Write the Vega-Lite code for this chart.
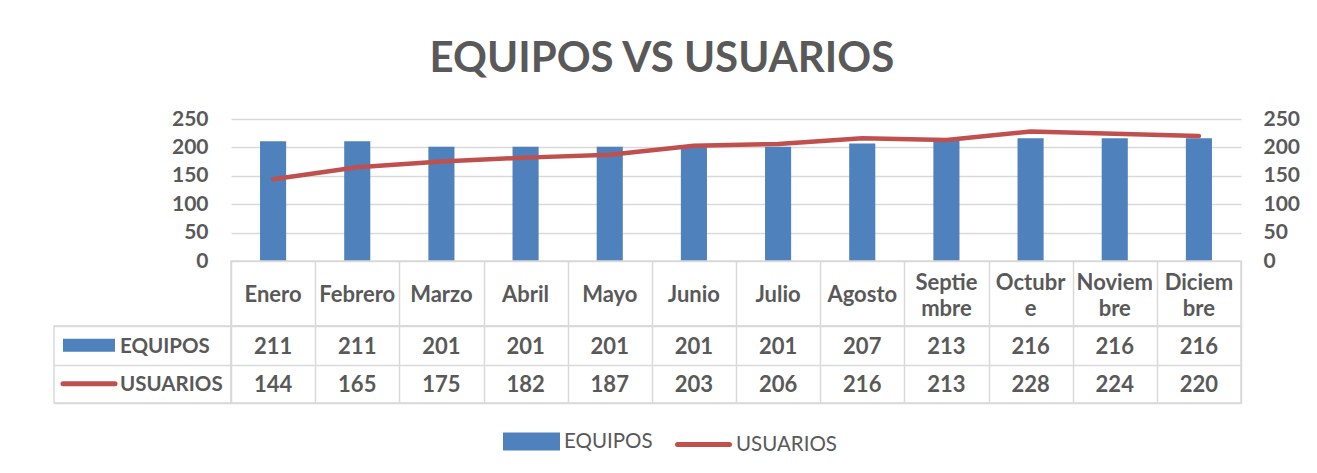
{
  "$schema": "https://vega.github.io/schema/vega-lite/v6.json",
  "background": "white",
  "padding": {"left": 52, "top": 38, "right": 10, "bottom": 10},
  "title": {"text": "EQUIPOS VS USUARIOS", "font": "Lato", "fontSize": 42, "fontWeight": "bold", "color": "#595959", "anchor": "middle", "frame": "bounds", "dx": -14, "offset": 27},
  "config": {"font": "Lato", "view": {"stroke": null}},
  "datasets": {
    "valores": [
      {"mes": "Enero", "serie": "EQUIPOS", "valor": 211},
      {"mes": "Febrero", "serie": "EQUIPOS", "valor": 211},
      {"mes": "Marzo", "serie": "EQUIPOS", "valor": 201},
      {"mes": "Abril", "serie": "EQUIPOS", "valor": 201},
      {"mes": "Mayo", "serie": "EQUIPOS", "valor": 201},
      {"mes": "Junio", "serie": "EQUIPOS", "valor": 201},
      {"mes": "Julio", "serie": "EQUIPOS", "valor": 201},
      {"mes": "Agosto", "serie": "EQUIPOS", "valor": 207},
      {"mes": "Septiembre", "serie": "EQUIPOS", "valor": 213},
      {"mes": "Octubre", "serie": "EQUIPOS", "valor": 216},
      {"mes": "Noviembre", "serie": "EQUIPOS", "valor": 216},
      {"mes": "Diciembre", "serie": "EQUIPOS", "valor": 216},
      {"mes": "Enero", "serie": "USUARIOS", "valor": 144},
      {"mes": "Febrero", "serie": "USUARIOS", "valor": 165},
      {"mes": "Marzo", "serie": "USUARIOS", "valor": 175},
      {"mes": "Abril", "serie": "USUARIOS", "valor": 182},
      {"mes": "Mayo", "serie": "USUARIOS", "valor": 187},
      {"mes": "Junio", "serie": "USUARIOS", "valor": 203},
      {"mes": "Julio", "serie": "USUARIOS", "valor": 206},
      {"mes": "Agosto", "serie": "USUARIOS", "valor": 216},
      {"mes": "Septiembre", "serie": "USUARIOS", "valor": 213},
      {"mes": "Octubre", "serie": "USUARIOS", "valor": 228},
      {"mes": "Noviembre", "serie": "USUARIOS", "valor": 224},
      {"mes": "Diciembre", "serie": "USUARIOS", "valor": 220}
    ],
    "meses": [
      {"mes": "Enero", "lineas": "Enero"},
      {"mes": "Febrero", "lineas": "Febrero"},
      {"mes": "Marzo", "lineas": "Marzo"},
      {"mes": "Abril", "lineas": "Abril"},
      {"mes": "Mayo", "lineas": "Mayo"},
      {"mes": "Junio", "lineas": "Junio"},
      {"mes": "Julio", "lineas": "Julio"},
      {"mes": "Agosto", "lineas": "Agosto"},
      {"mes": "Septiembre", "lineas": ["Septie", "mbre"]},
      {"mes": "Octubre", "lineas": ["Octubr", "e"]},
      {"mes": "Noviembre", "lineas": ["Noviem", "bre"]},
      {"mes": "Diciembre", "lineas": ["Diciem", "bre"]}
    ]
  },
  "columns": 2,
  "spacing": 0,
  "bounds": "flush",
  "concat": [
    {
      "width": 177, "height": 142,
      "data": {"values": [{}]},
      "mark": {"type": "text"},
      "encoding": {"text": {"value": ""}}
    },
    {
      "width": 1010, "height": 142,
      "data": {"name": "valores"},
      "layer": [
        {
          "transform": [{"filter": "datum.serie === 'EQUIPOS'"}],
          "mark": {"type": "bar", "width": {"band": 0.31}},
          "encoding": {
            "x": {"field": "mes", "type": "nominal", "sort": ["Enero","Febrero","Marzo","Abril","Mayo","Junio","Julio","Agosto","Septiembre","Octubre","Noviembre","Diciembre"], "scale": {"paddingInner": 0, "paddingOuter": 0}, "axis": null},
            "y": {"field": "valor", "type": "quantitative", "scale": {"domain": [0, 250]},
              "axis": {"orient": "left", "values": [0,50,100,150,200,250], "title": null, "grid": true, "gridColor": "#D9D9D9", "gridWidth": 1.5, "domain": false, "ticks": false, "labelPadding": 23, "labelFont": "Lato", "labelFontSize": 21, "labelFontWeight": "bold", "labelColor": "#595959"}},
            "color": {"datum": "EQUIPOS", "type": "nominal", "scale": {"domain": ["EQUIPOS", "USUARIOS"], "range": ["#4F81BD", "#C0504D"]},
              "legend": {"title": null, "orient": "none", "legendX": 449, "legendY": 294, "direction": "horizontal", "symbolSize": 2704, "symbolOffset": 0, "padding": 0, "labelFont": "Lato", "labelFontSize": 20.5, "labelFontWeight": "normal", "labelColor": "#595959", "labelOffset": 4, "columnPadding": 14,
                "encode": {"symbols": {"update": {
                  "shape": {"signal": "datum.value === 'EQUIPOS' ? 'M-1,-0.25H1V0.25H-1Z' : 'M-1,0H1'"},
                  "fill": {"signal": "datum.value === 'EQUIPOS' ? '#4F81BD' : 'transparent'"},
                  "stroke": {"signal": "datum.value === 'EQUIPOS' ? 'transparent' : '#C0504D'"},
                  "strokeWidth": {"value": 5},
                  "strokeCap": {"value": "round"},
                  "opacity": {"value": 1}}}}}}
          }
        },
        {
          "transform": [{"filter": "datum.serie === 'USUARIOS'"}],
          "mark": {"type": "line", "strokeWidth": 4.5, "strokeCap": "round", "strokeJoin": "round"},
          "encoding": {
            "x": {"field": "mes", "type": "nominal", "sort": ["Enero","Febrero","Marzo","Abril","Mayo","Junio","Julio","Agosto","Septiembre","Octubre","Noviembre","Diciembre"], "axis": null},
            "y": {"field": "valor", "type": "quantitative", "scale": {"domain": [0, 250]},
              "axis": {"orient": "right", "values": [0,50,100,150,200,250], "title": null, "grid": false, "domain": false, "ticks": false, "labelPadding": 22, "labelFont": "Lato", "labelFontSize": 21, "labelFontWeight": "bold", "labelColor": "#595959"}},
            "color": {"datum": "USUARIOS", "type": "nominal"}
          }
        }
      ],
      "resolve": {"scale": {"y": "independent"}}
    },
    {
      "width": 177, "height": 65,
      "data": {"values": [{}]},
      "mark": {"type": "text"},
      "encoding": {"text": {"value": ""}}
    },
    {
      "width": 1010, "height": 65,
      "data": {"name": "meses"},
      "view": {"stroke": "#D9D9D9", "strokeWidth": 1.5},
      "encoding": {
        "x": {"field": "mes", "type": "nominal", "sort": ["Enero","Febrero","Marzo","Abril","Mayo","Junio","Julio","Agosto","Septiembre","Octubre","Noviembre","Diciembre"], "scale": {"paddingInner": 0, "paddingOuter": 0},
          "axis": {"title": null, "labels": false, "ticks": false, "domain": false, "grid": true, "tickBand": "extent", "gridColor": "#D9D9D9", "gridWidth": 1.5}},
        "text": {"field": "lineas", "type": "nominal"}
      },
      "layer": [
        {
          "transform": [{"filter": "!isArray(datum.lineas)"}],
          "mark": {"type": "text", "font": "Lato", "fontSize": 22, "fontWeight": "bold", "color": "#595959", "baseline": "middle", "dy": 1}
        },
        {
          "transform": [{"filter": "isArray(datum.lineas)"}],
          "mark": {"type": "text", "font": "Lato", "fontSize": 22, "fontWeight": "bold", "color": "#595959", "lineHeight": 26, "baseline": "middle", "dy": -11}
        }
      ]
    },
    {
      "width": 177, "height": 77,
      "data": {"values": [{"serie": "EQUIPOS"}, {"serie": "USUARIOS"}]},
      "view": {"stroke": "#D9D9D9", "strokeWidth": 1.5},
      "encoding": {
        "y": {"field": "serie", "type": "nominal", "sort": ["EQUIPOS", "USUARIOS"], "scale": {"paddingInner": 0, "paddingOuter": 0},
          "axis": {"title": null, "labels": false, "ticks": false, "domain": false, "grid": true, "tickBand": "extent", "gridColor": "#D9D9D9", "gridWidth": 1.5}}
      },
      "layer": [
        {
          "transform": [{"filter": "datum.serie === 'EQUIPOS'"}],
          "mark": {"type": "point", "shape": "M-1,-0.25H1V0.25H-1Z", "size": 2704, "filled": true, "color": "#4F81BD", "opacity": 1, "xOffset": -53.5}
        },
        {
          "transform": [{"filter": "datum.serie === 'USUARIOS'"}],
          "mark": {"type": "point", "shape": "M-1,0H1", "size": 2704, "filled": false, "stroke": "#C0504D", "strokeWidth": 5, "strokeCap": "round", "opacity": 1, "xOffset": -53.5}
        },
        {
          "mark": {"type": "text", "font": "Lato", "fontSize": 20.5, "fontWeight": "bold", "color": "#595959", "align": "left", "baseline": "middle", "dx": -22.5, "dy": 1.5},
          "encoding": {"text": {"field": "serie", "type": "nominal"}}
        }
      ]
    },
    {
      "width": 1010, "height": 77,
      "data": {"name": "valores"},
      "view": {"stroke": "#D9D9D9", "strokeWidth": 1.5},
      "mark": {"type": "text", "font": "Lato", "fontSize": 22, "fontWeight": "bold", "color": "#595959", "baseline": "middle", "dy": 1.5},
      "encoding": {
        "x": {"field": "mes", "type": "nominal", "sort": ["Enero","Febrero","Marzo","Abril","Mayo","Junio","Julio","Agosto","Septiembre","Octubre","Noviembre","Diciembre"], "scale": {"paddingInner": 0, "paddingOuter": 0},
          "axis": {"title": null, "labels": false, "ticks": false, "domain": false, "grid": true, "tickBand": "extent", "gridColor": "#D9D9D9", "gridWidth": 1.5}},
        "y": {"field": "serie", "type": "nominal", "sort": ["EQUIPOS", "USUARIOS"], "scale": {"paddingInner": 0, "paddingOuter": 0},
          "axis": {"title": null, "labels": false, "ticks": false, "domain": false, "grid": true, "tickBand": "extent", "gridColor": "#D9D9D9", "gridWidth": 1.5}},
        "text": {"field": "valor", "type": "quantitative"}
      }
    }
  ]
}
